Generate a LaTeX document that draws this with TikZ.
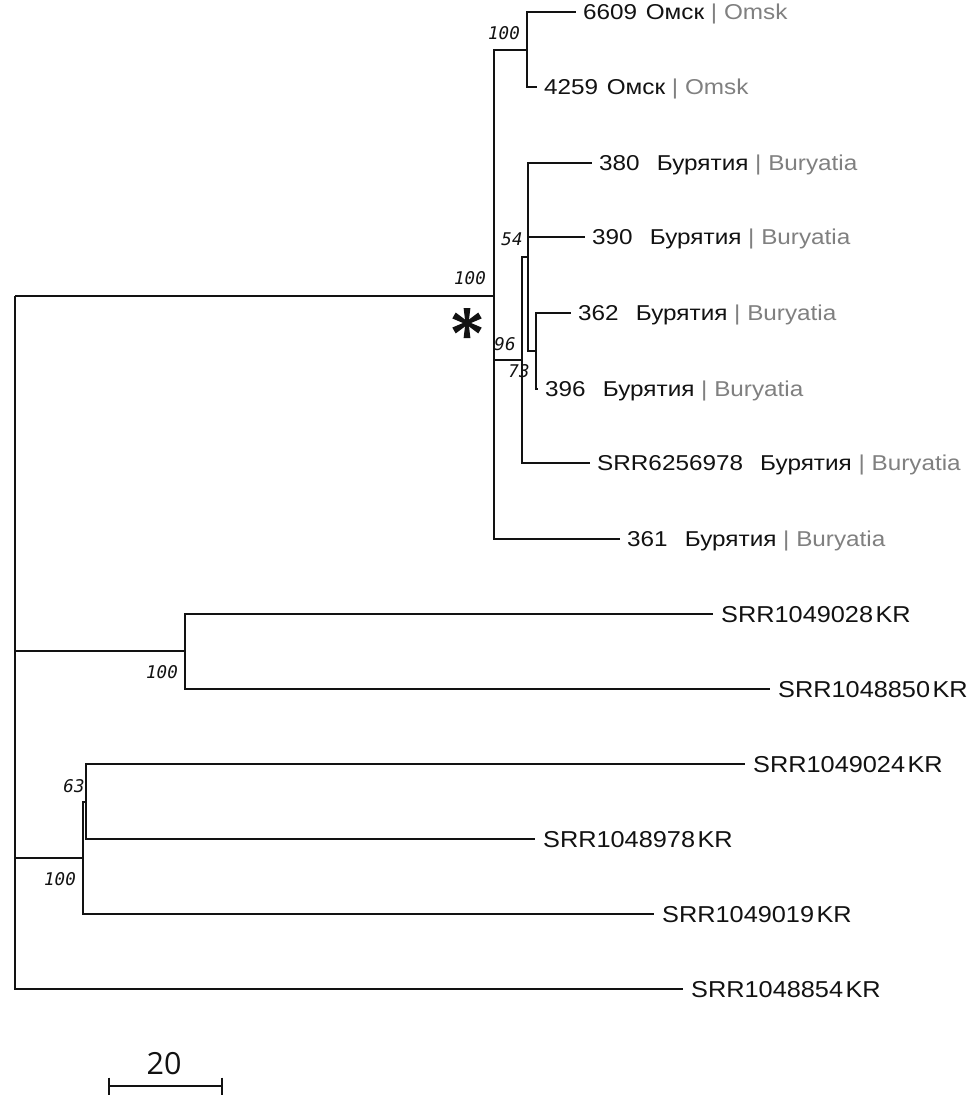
\documentclass[tikz,border=0pt]{standalone}
\usepackage{fontspec}
\newfontfamily\tipf[FakeStretch=1.13]{Liberation Sans}
\newfontfamily\krf[FakeStretch=1.1]{Liberation Sans}
\newfontfamily\bsf{DejaVu Sans Mono}
\newfontfamily\scf{Open Sans}
\definecolor{lbgrey}{gray}{0.5}
\definecolor{ink}{gray}{0.07}
\begin{document}
\begin{tikzpicture}[x=1pt,y=-1pt,
  br/.style={line width=2.1pt, draw=ink},
  tip/.style={anchor=base west, inner sep=0pt, xshift=7pt, yshift=-7.6pt, text=ink,
    font=\tipf\fontsize{21.5}{26}\selectfont},
  krtip/.style={anchor=base west, inner sep=0pt, xshift=8pt, yshift=-8.2pt, text=ink,
    font=\krf\fontsize{23}{28}\selectfont},
  bs/.style={inner sep=0pt, text=ink, font=\bsf\itshape\fontsize{17.5}{19}\selectfont}]
\useasboundingbox (0,0) rectangle (969,1103);
\fill[white] (0,0) rectangle (969,1103);
% internal nodes and tips
\coordinate (root) at (15,296);
\coordinate (nA) at (494,296);
\coordinate (nOm) at (527,50);
\coordinate (t6609) at (576,12);
\coordinate (t4259) at (537,87);
\coordinate (nB) at (522,360);
\coordinate (nC) at (528,257);
\coordinate (t380) at (592,163);
\coordinate (t390) at (585,237);
\coordinate (nD) at (536,351);
\coordinate (t362) at (571,313);
\coordinate (t396) at (538,389);
\coordinate (tSRR62) at (590,463);
\coordinate (t361) at (620,539);
\coordinate (nE) at (185,651);
\coordinate (t028) at (713,614);
\coordinate (t850) at (770,689);
\coordinate (nF) at (83,858);
\coordinate (nG) at (86,802);
\coordinate (t024) at (745,764);
\coordinate (t978) at (535,839);
\coordinate (t019) at (654,914);
\coordinate (t854) at (683,989);
% branches
\draw[br] (root) |- (nA);
\draw[br] (root) |- (nE);
\draw[br] (root) |- (nF);
\draw[br] (root) |- (t854);
\draw[br] (nA) |- (nOm);
\draw[br] (nA) |- (nB);
\draw[br] (nA) |- (t361);
\draw[br] (nOm) |- (t6609);
\draw[br] (nOm) |- (t4259);
\draw[br] (nB) |- (nC);
\draw[br] (nB) |- (tSRR62);
\draw[br] (nC) |- (t380);
\draw[br] (nC) |- (t390);
\draw[br] (nC) |- (nD);
\draw[br] (nD) |- (t362);
\draw[br] (nD) |- (t396);
\draw[br] (nE) |- (t028);
\draw[br] (nE) |- (t850);
\draw[br] (nF) |- (nG);
\draw[br] (nF) |- (t019);
\draw[br] (nG) |- (t024);
\draw[br] (nG) |- (t978);
% tip labels
\node[tip] (l6609) at (t6609) {6609\hspace{0.4em}Омск {\color{lbgrey}| Omsk}};
\node[tip] (l4259) at (t4259) {4259\hspace{0.4em}Омск {\color{lbgrey}| Omsk}};
\node[tip] (l380) at (t380) {380\hspace{0.8em}Бурятия {\color{lbgrey}| Buryatia}};
\node[tip] (l390) at (t390) {390\hspace{0.8em}Бурятия {\color{lbgrey}| Buryatia}};
\node[tip] (l362) at (t362) {362\hspace{0.8em}Бурятия {\color{lbgrey}| Buryatia}};
\node[tip] (l396) at (t396) {396\hspace{0.8em}Бурятия {\color{lbgrey}| Buryatia}};
\node[tip] (lSRR62) at (tSRR62) {SRR6256978\hspace{0.8em}Бурятия {\color{lbgrey}| Buryatia}};
\node[tip] (l361) at (t361) {361\hspace{0.8em}Бурятия {\color{lbgrey}| Buryatia}};
\node[krtip] (l028) at (t028) {SRR1049028\hspace{2.5pt}KR};
\node[krtip] (l850) at (t850) {SRR1048850\hspace{2.5pt}KR};
\node[krtip] (l024) at (t024) {SRR1049024\hspace{2.5pt}KR};
\node[krtip] (l978) at (t978) {SRR1048978\hspace{2.5pt}KR};
\node[krtip] (l019) at (t019) {SRR1049019\hspace{2.5pt}KR};
\node[krtip] (l854) at (t854) {SRR1048854\hspace{2.5pt}KR};
% bootstrap values
\node[bs] (bOm) at (504,33) {100};
\node[bs] (bA) at (470,278) {100};
\node[bs] (bC) at (512,239) {54};
\node[bs] (bB) at (505,344) {96};
\node[bs] (bD) at (519,371) {73};
\node[bs] (bE) at (162,672) {100};
\node[bs] (bG) at (74,786) {63};
\node[bs] (bF) at (60,879) {100};
% asterisk (six arms)
\foreach \a in {90,270,30,150,210,330}
  \fill[ink, shift={(467,323)}, rotate=\a] (0,-1.6) -- (15,-3.4) -- (15,3.4) -- (0,1.6) -- cycle;
\fill[ink] (467,323) circle[radius=3.2];
% scale bar
\coordinate (sbL) at (109,1086);
\coordinate (sbR) at (222,1086);
\draw[line width=2.2pt, draw=ink] (sbL) -- (sbR);
\draw[line width=2.4pt, draw=ink] ([yshift=8.5pt]sbL) -- ([yshift=-8.5pt]sbL);
\draw[line width=2.4pt, draw=ink] ([yshift=8.5pt]sbR) -- ([yshift=-8.5pt]sbR);
\node[inner sep=0pt, text=ink, font=\scf\fontsize{30.5}{34}\selectfont] (sblab) at (164,1064) {20};
\end{tikzpicture}
\end{document}
